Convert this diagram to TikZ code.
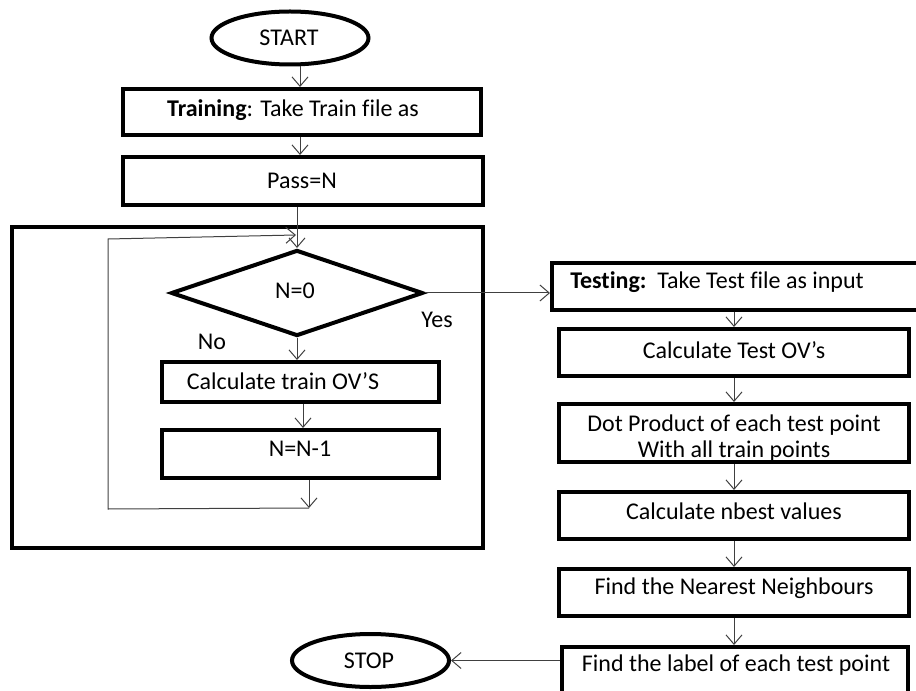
\documentclass[tikz,border=0pt]{standalone}
\usepackage{fontspec}
\setmainfont{Carlito}[Ligatures={NoCommon,NoRare,NoContextual}]
\usetikzlibrary{shapes.geometric,arrows.meta}
\begin{document}
\begin{tikzpicture}[x=0.75pt,y=-0.75pt,
  box/.style={draw=black,line width=3pt,inner sep=0pt},
  oval/.style={draw=black,line width=3pt,ellipse,inner sep=0pt,minimum width=117.75pt,minimum height=39.75pt},
  dec/.style={draw=black,line width=3pt,diamond,inner sep=0pt,aspect=2.93,minimum width=189pt,minimum height=64.5pt},
  txt/.style={inner sep=0pt,font=\fontsize{18}{21}\selectfont,text=black},
  arr/.style={draw=black!75,line width=0.75pt,-{Straight Barb[length=7pt,width=12pt]}},
  ln/.style={draw=black!75,line width=0.75pt}]
\useasboundingbox (0,0) rectangle (916,691);
% column x coordinates
\coordinate (cx) at (300,0);
\coordinate (c303) at (303,0);
% left column
\node[oval] (start) at (290,38) {};
\node[txt] (tstart) at (289,38) {START};
\node[box,minimum width=268.5pt,minimum height=34.5pt] (train) at (302,112) {};
\node[txt] (ttrain) at (293,110) {\textbf{Training}: Take Train file as};
\node[box,minimum width=270pt,minimum height=36pt] (pass) at (303,181) {};
\node[txt] (tpass) at (302,181) {Pass=N};
\node[box,minimum width=353.25pt,minimum height=240.75pt] (big) at (247.5,387.5) {};
\node[dec] (d) at (297,293) {};
\node[txt] (td) at (295,291) {N=0};
\node[txt] (tyes) at (437,320) {Yes};
\node[txt] (tno) at (212,342) {No};
\node[box,minimum width=207.75pt,minimum height=30pt] (ctrain) at (300.5,382) {};
\node[txt] (tctrain) at (283,381) {Calculate train OV’S};
\node[box,minimum width=207.75pt,minimum height=36pt] (nn1) at (300.5,454) {};
\node[txt] (tnn1) at (300,449) {N=N-1};
% right column
\node[box,minimum width=291pt,minimum height=35.25pt] (test) at (746,286.5) {};
\node[txt,anchor=west] (ttest) at (570,282) {\textbf{Testing:}\ \ Take Test file as input};
\node[box,minimum width=262.5pt,minimum height=35.25pt] (ctest) at (734,352.5) {};
\node[txt] (tctest) at (734,350) {Calculate Test OV’s};
\node[box,minimum width=262.5pt,minimum height=43.5pt] (dot) at (734,433) {};
\begin{scope}
  \clip ([xshift=1.5pt,yshift=1.5pt]dot.south west) rectangle ([xshift=-1.5pt,yshift=-1.5pt]dot.north east);
  \node[txt] (tdot1) at (734,425) {Dot Product of each test point};
  \node[txt] (tdot2) at (734,451) {With all train points};
\end{scope}
\node[box,minimum width=262.5pt,minimum height=35.25pt] (nbest) at (734,515.5) {};
\node[txt] (tnbest) at (734,511) {Calculate nbest values};
\node[box,minimum width=262.5pt,minimum height=35.25pt] (fnn) at (734,592.5) {};
\node[txt] (tfnn) at (734,588) {Find the Nearest Neighbours};
\node[box,minimum width=259.5pt,minimum height=47.25pt] (flabel) at (735,678.5) {};
\node[txt] (tflabel) at (736,665) {Find the label of each test point};
\node[oval] (stop) at (370.5,660.5) {};
\node[txt] (tstop) at (369,661) {STOP};
% loop coordinates
\coordinate (lb) at (309,508);
\coordinate (ll) at (108,509);
\coordinate (lt) at (108,239);
\coordinate (le) at (296,235);
% connectors
\draw[arr] (start.south -| cx) -- (train.north -| cx);
\draw[arr] (train.south -| cx) -- (pass.north -| cx);
\draw[arr] (pass.south -| d.north) -- (d.north);
\draw[arr] (d.south) -- (ctrain.north -| d.south);
\draw[arr] (ctrain.south -| c303) -- (nn1.north -| c303);
\draw[arr] (nn1.south -| lb) -- (lb);
\draw[arr] (lb) -- (ll) -- (lt) -- (le);
\draw[arr] (d.east) -- (test.west |- d.east);
\draw[arr] (test.south -| ctest.north) -- (ctest.north);
\draw[arr] (ctest.south) -- (dot.north);
\draw[arr] (dot.south) -- (nbest.north);
\draw[arr] (nbest.south) -- (fnn.north);
\draw[arr] (fnn.south) -- (flabel.north -| fnn.south);
\draw[arr] (flabel.west |- stop.east) -- (stop.east);
\end{tikzpicture}
\end{document}
